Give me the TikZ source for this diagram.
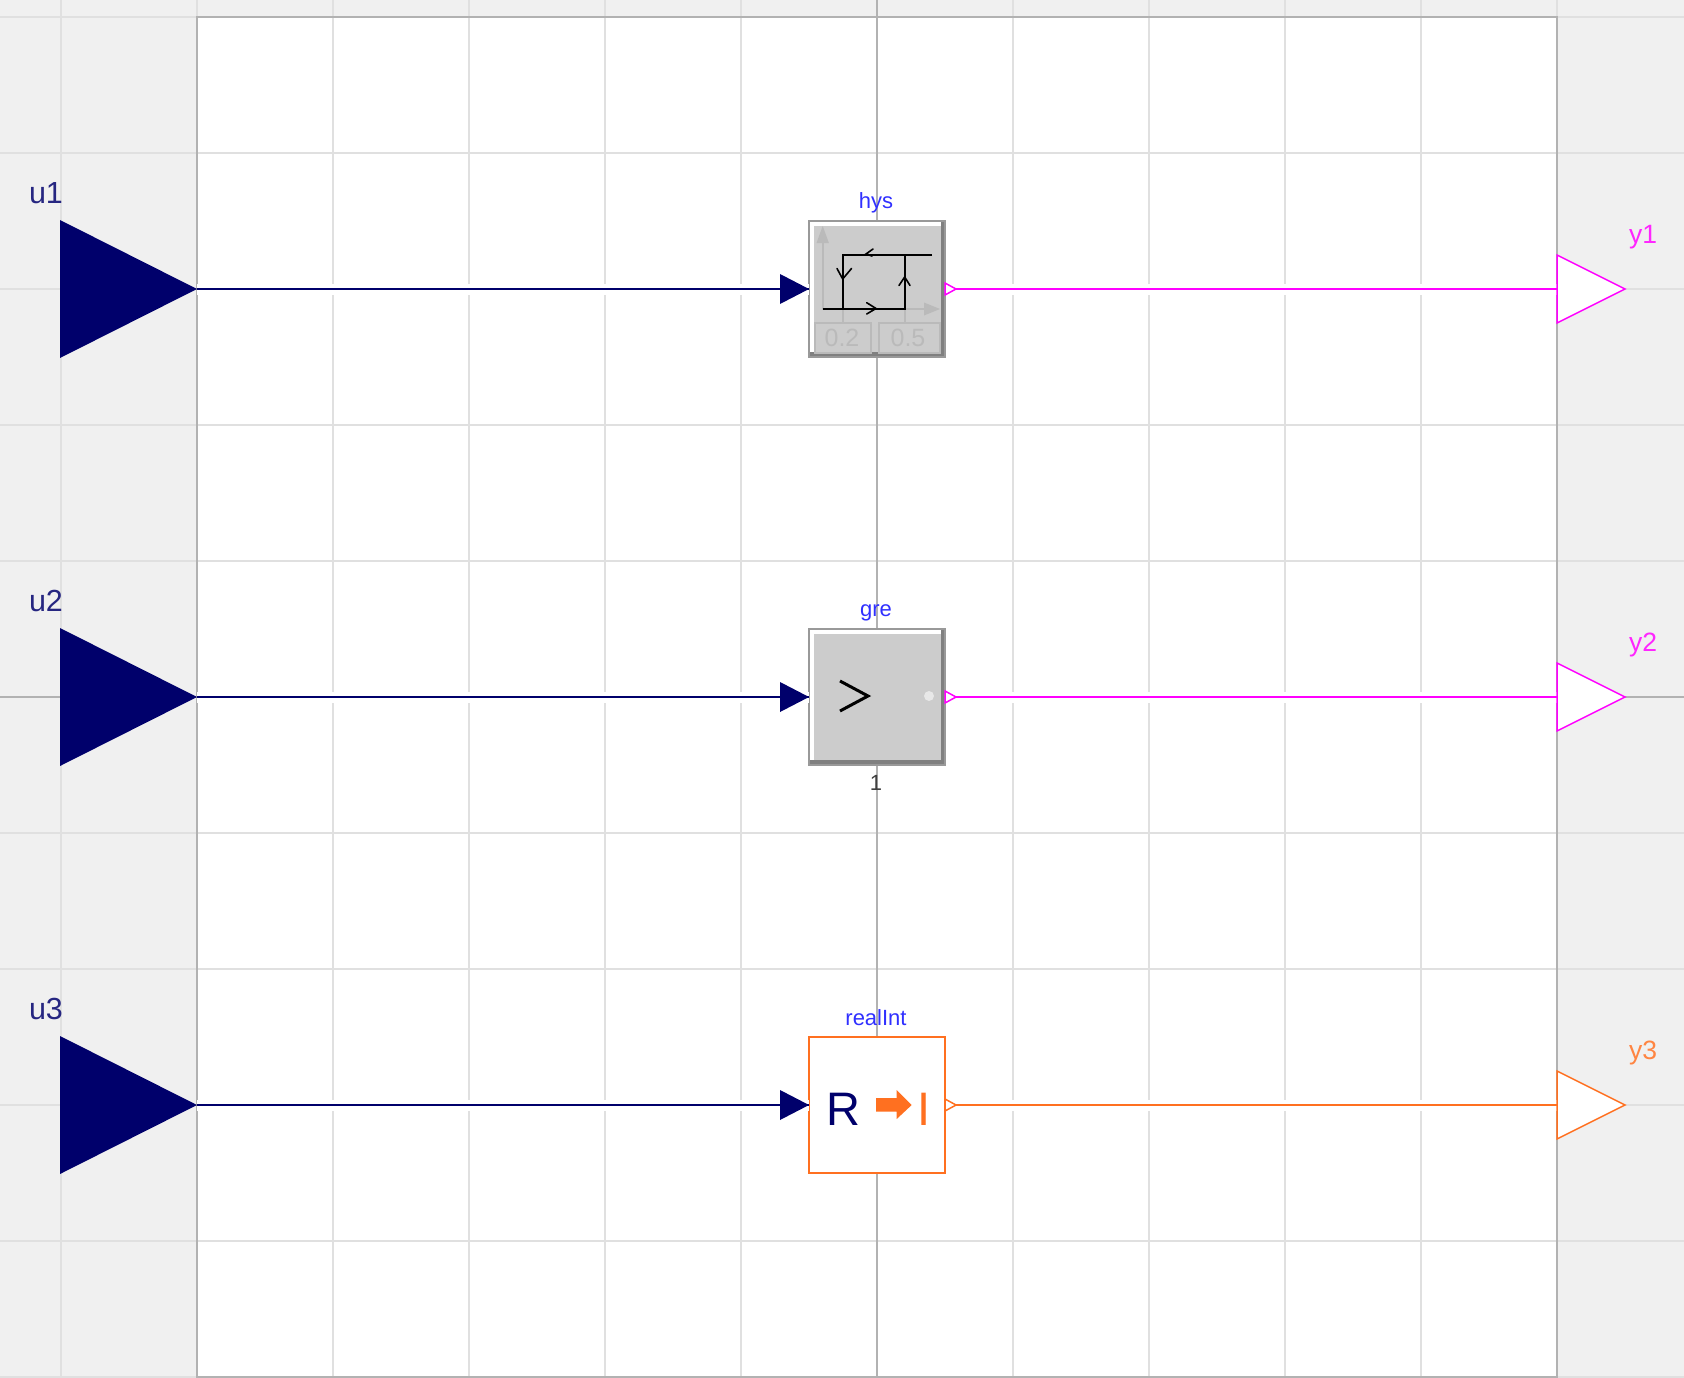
\documentclass[tikz,border=0pt]{standalone}
\usepackage{fontspec}
\setmainfont{Liberation Sans}
\usetikzlibrary{calc}
\definecolor{navyport}{HTML}{00006B}
\definecolor{boolport}{HTML}{FF00FF}
\definecolor{intport}{HTML}{FF7020}
\definecolor{instname}{HTML}{3030FF}

\begin{document}
\begin{tikzpicture}[x=1pt, y=-1pt,
        gridline/.style={draw=black!12, line width=1.6pt},
        axisline/.style={draw=black!30, line width=2pt},
        block/.style={minimum size=136pt, inner sep=0pt, outer sep=0pt},
        wire/.style={line width=2pt, preaction={draw=white, line width=11pt}},
        instlabel/.style={anchor=base, inner sep=0pt, text=instname, font=\fontsize{22}{22}\selectfont},
        portlabel/.style={anchor=base, inner sep=0pt, font=\fontsize{30.5}{30}\selectfont},
        outlabel/.style={anchor=base, inner sep=0pt, font=\fontsize{26.5}{26}\selectfont},
        faded/.style={draw=black!27, line width=2pt},
        tip/.style={line width=1.6pt, line cap=round}]
    \useasboundingbox (0,0) rectangle (1684,1378);
    \fill[black!6] (0,0) rectangle (1684,1378);
    \fill[white] (197,17) rectangle (1557,1377);
    \foreach \x in {61,197,...,1557} \draw[gridline] (\x,0) -- (\x,1378);
    \foreach \y in {17,153,...,1377} \draw[gridline] (0,\y) -- (1684,\y);
    \draw[axisline] (877,0) -- (877,1378);
    \draw[axisline] (0,697) -- (1684,697);
    \draw[axisline] (197,17) rectangle (1557,1377);

    % blocks
    \foreach \name/\ypos in {hys/289, gre/697} {
        \node[block, fill=white] (\name) at (877,\ypos) {};
        \fill[black!50] (941,\ypos-68) rectangle (945,\ypos+68);
        \fill[black!50] (809,\ypos+63) rectangle (945,\ypos+68);
        \fill[black!20] (814,\ypos-63) rectangle (941,\ypos+63);
        \draw[black!40, line width=2pt] (809,\ypos-68) rectangle (945,\ypos+68);
    }
    \node[block, draw=intport, line width=2pt, fill=white] (realInt) at (877,1105) {};

    % hysteresis icon
    \draw[faded] (822.7,242) -- (822.7,309) -- (925,309);
    \fill[black!27] (816.5,243) -- (822.7,226) -- (828.9,243) -- cycle;
    \fill[black!27] (924,302.5) -- (940,309) -- (924,315.5) -- cycle;
    \draw[faded] (842.7,309) -- (842.7,323);
    \draw[faded] (904.7,309) -- (904.7,323);
    \draw[faded] (815,323) rectangle (871,353);
    \draw[faded] (879,323) rectangle (940,353);
    \node[inner sep=0pt, text=black!27, font=\fontsize{25}{25}\selectfont] (low) at (842,338) {0.2};
    \node[inner sep=0pt, text=black!27, font=\fontsize{25}{25}\selectfont] (high) at (908,338) {0.5};
    \draw[line width=2pt] (822.7,309) -- (904.7,309) -- (904.7,255);
    \draw[line width=2pt] (932,255) -- (842.7,255) -- (842.7,309);
    \draw[tip] (866.7,302.7) -- (876,308.5) -- (866.7,314);
    \draw[tip] (873,249) -- (866,254) -- (872,256);
    \draw[tip] (837,268.5) -- (842.7,279) -- (851.5,268.5);
    \draw[tip] (899,285.5) -- (904.7,277) -- (910,285.5);

    % greater icon
    \draw[line width=3pt] (840,681) -- (868,696) -- (840,711);
    \fill[black!9] (929,696) circle (5);

    % integer conversion icon
    \node[inner sep=0pt, anchor=base, text=navyport, font=\fontsize{47}{47}\selectfont] (rsym) at (843,1125.5) {R};
    \fill[intport] (876,1098) -- (896.7,1098) -- (896.7,1090) -- (911.7,1105) -- (896.7,1119) -- (896.7,1111.7) -- (876,1111.7) -- cycle;
    \node[inner sep=0pt, anchor=base, text=intport, font=\fontsize{47}{47}\selectfont] (isym) at (924.2,1125.5) {I};

    % instance names
    \node[instlabel] (hyslabel) at (876,208) {hys};
    \node[instlabel] (grelabel) at (876,616.5) {gre};
    \node[instlabel] (reallabel) at (876,1025) {realInt};
    \node[instlabel, text=black!75] (grepar) at (876,790) {1};

    % inputs and outputs
    \foreach \i/\ypos in {1/289, 2/697, 3/1105} {
        \coordinate (u\i) at (197,\ypos);
        \node[portlabel, text=navyport!85] (u\i label) at (46,\ypos-86) {u\i};
    }
    \foreach \i/\ypos/\col in {1/289/boolport, 2/697/boolport, 3/1105/intport} {
        \coordinate (y\i) at (1557,\ypos);
        \node[outlabel, text=\col!85] (y\i label) at (1643,\ypos-46) {y\i};
    }

    % connectors
    \draw[wire, navyport] (u1) -- (hys.west);
    \draw[wire, navyport] (u2) -- (gre.west);
    \draw[wire, navyport] (u3) -- (realInt.west);
    \draw[wire, boolport] (hys.east) -- (y1);
    \draw[wire, boolport] (gre.east) -- (y2);
    \draw[wire, intport] (realInt.east) -- (y3);

    % port triangles
    \foreach \i/\block/\col in {1/hys/boolport, 2/gre/boolport, 3/realInt/intport} {
        \fill[navyport] (u\i) -- ++(-137,-69) -- ++(0,138) -- cycle;
        \fill[navyport] (\block.west) -- ++(-29,-15) -- ++(0,30) -- cycle;
        \draw[\col, line width=1.5pt, fill=white] (\block.east) ++(0,-6) -- ++(11,6) -- ++(-11,6) -- cycle;
        \draw[\col, line width=1.5pt, fill=white] (y\i) ++(0,-34) -- ++(68,34) -- ++(-68,34) -- cycle;
    }
\end{tikzpicture}
\end{document}
